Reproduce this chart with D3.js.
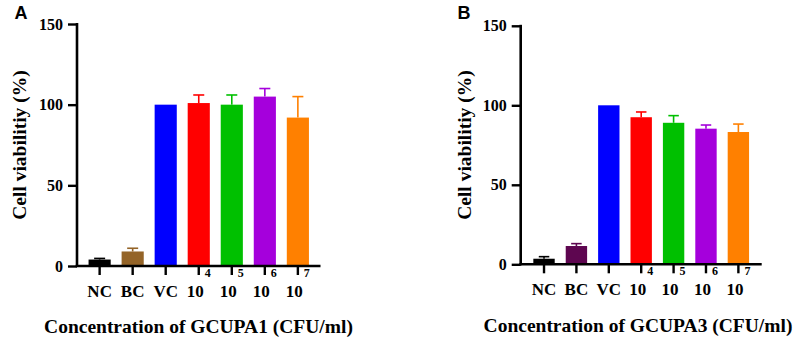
<!DOCTYPE html>
<html>
<head>
<meta charset="utf-8">
<script src="https://cdn.jsdelivr.net/npm/d3@7"></script>
<style>
  html, body { margin: 0; padding: 0; background: #fff; }
  svg { display: block; }
  .serif { font-family: "Liberation Serif", "Times New Roman", Times, serif !important; font-weight: bold; }
  .sans { font-family: "Liberation Sans", Arial, Helvetica, sans-serif; font-weight: bold; }
</style>
</head>
<body>
<svg id="chart" width="797" height="340"></svg>
<script>
// ---- data ----
const categories = ["NC", "BC", "VC", "10^4", "10^5", "10^6", "10^7"];
const yTicks = [0, 50, 100, 150];
const meansA = [4, 9, 100, 101, 100, 105, 92];
const errorsA = [0.7, 2, 0, 5, 6, 5, 13];
const meansB = [3.5, 11.5, 100, 92.5, 89, 85.3, 83.2];
const errorsB = [1.3, 1.5, 0, 3.3, 4.5, 2.3, 5];
const colorsA = ["#000000", "#946428", "#0000ff", "#ff0000", "#00c000", "#a500dc", "#ff8000"];
const colorsB = ["#000000", "#5e0650", "#0000ff", "#ff0000", "#00c000", "#a500dc", "#ff8000"];
const yTitle = "Cell viabilitiy (%)";
const xTitleA = "Concentration of GCUPA1 (CFU/ml)";
const xTitleB = "Concentration of GCUPA3 (CFU/ml)";

// ---- drawing ----
const svg = d3.select("#chart");

function drawPanel(cfg) {
  const y = d3.scaleLinear().domain([0, 150]).range([cfg.y0, cfg.y150]);
  const x = d3.scaleBand().domain(categories).range([cfg.x0, cfg.x1])
    .paddingInner(cfg.pi).paddingOuter(cfg.po);
  const g = svg.append("g");
  const mid = (d) => x(d) + x.bandwidth() / 2;
  const top = (d) => y(cfg.means[categories.indexOf(d)] + cfg.errors[categories.indexOf(d)]);
  const col = (d) => cfg.colors[categories.indexOf(d)];

  // bars
  g.selectAll("rect.bar").data(categories).join("rect")
    .attr("x", (d) => x(d))
    .attr("width", x.bandwidth())
    .attr("y", (d, i) => y(cfg.means[i]))
    .attr("height", (d, i) => y(0) - y(cfg.means[i]))
    .attr("fill", (d, i) => cfg.colors[i]);

  // error bars (upper only)
  const eb = g.selectAll("g.err").data(categories.filter((d, i) => cfg.errors[i] > 0)).join("g");
  eb.append("line")
    .attr("x1", mid).attr("x2", mid)
    .attr("y1", (d) => y(cfg.means[categories.indexOf(d)]))
    .attr("y2", top)
    .attr("stroke", col).attr("stroke-width", 1.6);
  eb.append("line")
    .attr("x1", (d) => mid(d) - cfg.cap / 2)
    .attr("x2", (d) => mid(d) + cfg.cap / 2)
    .attr("y1", top).attr("y2", top)
    .attr("stroke", col).attr("stroke-width", 1.6);

  // y axis
  const ya = g.append("g").attr("transform", `translate(${cfg.x0},0)`)
    .call(d3.axisLeft(y).tickValues(yTicks).tickSize(9).tickSizeOuter(0).tickPadding(5));
  ya.attr("font-family", null).attr("font-size", null);
  ya.select(".domain").attr("stroke-width", 2.6).attr("d", `M0,${cfg.y150 - 1}V${cfg.y0 + 1}`);
  ya.selectAll(".tick line").attr("stroke-width", 2.4);
  ya.selectAll(".tick text").attr("class", "serif")
    .attr("font-size", 16).attr("fill", "#000");

  // x axis
  const xa = g.append("g").attr("transform", `translate(0,${cfg.y0})`)
    .call(d3.axisBottom(x).tickSize(9).tickSizeOuter(0));
  xa.attr("font-family", null).attr("font-size", null);
  xa.select(".domain").attr("stroke-width", 2.6).attr("d", `M${cfg.x0 - 1.3},0H${cfg.x1}`);
  xa.selectAll(".tick line").attr("stroke-width", 2.4);
  xa.selectAll(".tick text").each(function (d) {
    const t = d3.select(this);
    t.text(null).attr("y", cfg.xLabelBase).attr("dy", 0)
      .attr("class", "serif")
      .attr("font-size", 17).attr("fill", "#000");
    const parts = d.split("^");
    t.append("tspan").text(parts[0]);
    if (parts.length > 1) {
      t.append("tspan").text(parts[1]).attr("font-size", 12).attr("dx", 1).attr("dy", -19.5);
    }
  });

  // axis titles
  svg.append("text")
    .attr("class", "serif")
    .attr("transform", `translate(${cfg.yTitleX},${(cfg.y0 + cfg.y150) / 2}) rotate(-90)`)
    .attr("text-anchor", "middle")
    .attr("font-size", 19.5)
    .text(yTitle);
  svg.append("text")
    .attr("class", "serif")
    .attr("x", cfg.xTitleX).attr("y", cfg.xTitleY)
    .attr("text-anchor", "middle")
    .attr("font-size", 19.5)
    .text(cfg.xTitle);

  // panel label
  svg.append("text")
    .attr("class", "sans")
    .attr("x", cfg.labelX).attr("y", cfg.labelY)
    .attr("font-size", 18)
    .text(cfg.label);
}

drawPanel({
  means: meansA, errors: errorsA, colors: colorsA,
  x0: 77, x1: 320.5, y0: 266, y150: 24, pi: 0.33, po: 0.35, cap: 11,
  xLabelBase: 30.5, yTitleX: 26, xTitleX: 198.5, xTitleY: 333,
  xTitle: xTitleA, label: "A", labelX: 14.5, labelY: 18.5
});
drawPanel({
  means: meansB, errors: errorsB, colors: colorsB,
  x0: 520.7, x1: 761.7, y0: 264.3, y150: 25.8, pi: 0.34, po: 0.39, cap: 10.5,
  xLabelBase: 30.5, yTitleX: 471, xTitleX: 638, xTitleY: 331.5,
  xTitle: xTitleB, label: "B", labelX: 457.5, labelY: 19
});
</script>
</body>
</html>
